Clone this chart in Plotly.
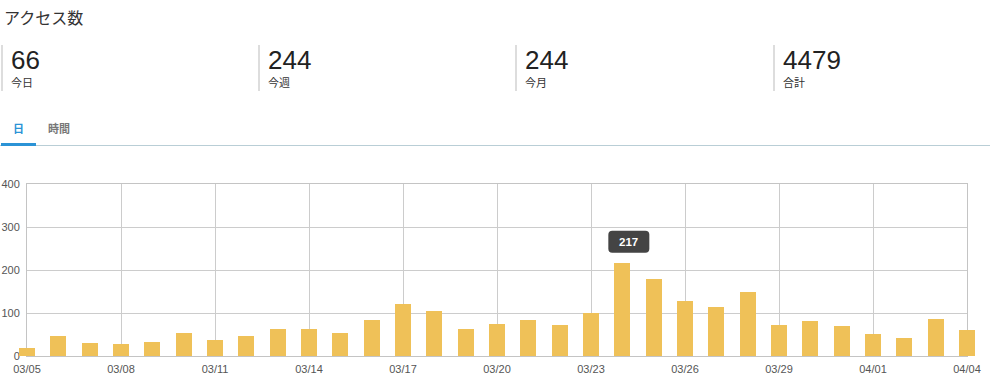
import plotly.graph_objects as go
import pandas as pd

# ---- data ----
dates = pd.date_range("2024-03-05", "2024-04-04", freq="D").strftime("%Y-%m-%d").tolist()
access = [19, 47, 30, 29, 33, 53, 37, 47, 63, 63,
          53, 84, 120, 105, 63, 74, 84, 72, 100, 217,
          180, 129, 115, 149, 72, 81, 70, 52, 42, 85, 60]
stat_values = ["66", "244", "244", "4479"]
stat_labels = ["今日", "今週", "今月", "合計"]
tab_labels = ["日", "時間"]
title_text = "アクセス数"
highlight_date = "2024-03-24"
highlight_value = 217
y_ticks = [0, 100, 200, 300, 400]

W, H = 990, 389
# inner frame (grid) in pixels
FL, FR, FT, FB = 27, 967, 184, 356
# outer paper area (wider so edge bars are not clipped)
ML, MR, MT, MB = 11, 8, FT, H - FB
PW, PH = W - ML - MR, H - MT - MB

def px(xp):
    return (xp - ML) / PW

def py(yp):
    return (H - MB - yp) / PH

DAY = 86400000
t0 = pd.Timestamp(dates[0])
t1 = pd.Timestamp(dates[-1])
ms_per_px = (t1 - t0).total_seconds() * 1000 / (FR - FL)
x2_range = [
    (t0 - pd.Timedelta(milliseconds=(FL - ML) * ms_per_px)).strftime("%Y-%m-%d %H:%M:%S.%f"),
    (t1 + pd.Timedelta(milliseconds=(W - MR - FR) * ms_per_px)).strftime("%Y-%m-%d %H:%M:%S.%f"),
]

FONT = "Helvetica Neue, Helvetica, Arial, Liberation Sans, Noto Sans CJK JP, sans-serif"
CJK = "Noto Sans CJK JP, Helvetica, Arial, sans-serif"

fig = go.Figure()
# framing subplot (grid, axes, tick labels) - transparent bars
fig.add_trace(go.Bar(
    x=dates, y=access, xaxis="x", yaxis="y",
    marker=dict(color="rgba(0,0,0,0)", line=dict(width=0)),
    width=0.51 * DAY, hoverinfo="skip",
))
# visible bars on an unclipped, wider overlay subplot
fig.add_trace(go.Bar(
    x=dates, y=access,
    xaxis="x2", yaxis="y2",
    marker=dict(color="#efc158", line=dict(width=0)),
    width=0.51 * DAY,
    hoverinfo="skip",
))

annotations = []
shapes = []

# title
annotations.append(dict(text=title_text, x=px(2), y=py(17), xref="paper", yref="paper",
                        xanchor="left", yanchor="middle", showarrow=False,
                        font=dict(family=CJK, size=16, color="#333333")))

# stats
stat_x = [2, 259, 516, 774]
for sx, v, lab in zip(stat_x, stat_values, stat_labels):
    shapes.append(dict(type="line", xref="paper", yref="paper",
                       x0=px(sx), x1=px(sx), y0=py(45), y1=py(91),
                       line=dict(color="#dddddd", width=2)))
    annotations.append(dict(text=v, x=px(sx + 7), y=py(60), xref="paper", yref="paper",
                            xanchor="left", yanchor="middle", showarrow=False,
                            font=dict(family=FONT, size=26, color="#222222")))
    annotations.append(dict(text=lab, x=px(sx + 7), y=py(82), xref="paper", yref="paper",
                            xanchor="left", yanchor="middle", showarrow=False,
                            font=dict(family=CJK, size=11, color="#333333")))

# tabs
shapes.append(dict(type="line", xref="paper", yref="paper",
                   x0=px(0), x1=px(W), y0=py(145.5), y1=py(145.5),
                   line=dict(color="#b9ced6", width=1)))
shapes.append(dict(type="rect", xref="paper", yref="paper",
                   x0=px(1), x1=px(36), y0=py(143), y1=py(146),
                   fillcolor="#2b93d6", line=dict(width=0)))
annotations.append(dict(text="<b>%s</b>" % tab_labels[0], x=px(18.5), y=py(128), xref="paper", yref="paper",
                        xanchor="center", yanchor="middle", showarrow=False,
                        font=dict(family=CJK, size=11, color="#2b93d6")))
annotations.append(dict(text="<b>%s</b>" % tab_labels[1], x=px(58.5), y=py(128), xref="paper", yref="paper",
                        xanchor="center", yanchor="middle", showarrow=False,
                        font=dict(family=CJK, size=11, color="#777777")))

# tooltip
x0, x1, y0, y1, r = -14, 27, 10, 32, 4
path = (f"M {x0+r},{y0} L {x1-r},{y0} Q {x1},{y0} {x1},{y0+r} L {x1},{y1-r} "
        f"Q {x1},{y1} {x1-r},{y1} L {x0+r},{y1} Q {x0},{y1} {x0},{y1-r} "
        f"L {x0},{y0+r} Q {x0},{y0} {x0+r},{y0} Z")
shapes.append(dict(type="path", xref="x2", yref="y2", xsizemode="pixel", ysizemode="pixel",
                   xanchor=highlight_date, yanchor=highlight_value, path=path,
                   fillcolor="#444444", line=dict(width=0), layer="above"))
annotations.append(dict(text="<b>%d</b>" % highlight_value, x=highlight_date, y=highlight_value,
                        xref="x2", yref="y2", xshift=(x0 + x1) / 2, yshift=(y0 + y1) / 2,
                        xanchor="center", yanchor="middle", showarrow=False,
                        font=dict(family=FONT, size=11.5, color="#ffffff")))

dom = [px(FL), px(FR)]
fig.update_layout(
    template="none",
    width=W, height=H,
    margin=dict(l=ML, r=MR, t=MT, b=MB, pad=0),
    paper_bgcolor="white", plot_bgcolor="rgba(0,0,0,0)",
    showlegend=False,
    bargap=0,
    barmode="overlay",
    annotations=annotations,
    shapes=shapes,
    font=dict(family=FONT, size=11, color="#555555"),
    xaxis=dict(
        type="date", domain=dom,
        range=[dates[0], dates[-1]],
        tick0=dates[0], dtick=3 * DAY, tickformat="%m/%d",
        showgrid=True, gridcolor="#cccccc", gridwidth=1,
        showline=True, linecolor="#c4c4c4", linewidth=1, mirror=True,
        ticks="", ticklabelstandoff=3, automargin=False,
        tickfont=dict(family=FONT, size=11, color="#555555"),
        fixedrange=True, zeroline=False,
    ),
    yaxis=dict(
        range=[0, 400], tickvals=y_ticks, anchor="x",
        showgrid=True, gridcolor="#cccccc", gridwidth=1,
        showline=True, linecolor="#c4c4c4", linewidth=1, mirror=True,
        ticks="", ticklabelstandoff=4, automargin=False,
        tickfont=dict(family=FONT, size=11, color="#555555"),
        fixedrange=True, zeroline=False,
    ),
    xaxis2=dict(
        type="date", domain=[0, 1], range=x2_range, anchor="y2",
        visible=False, showgrid=False, zeroline=False, fixedrange=True, automargin=False,
    ),
    yaxis2=dict(
        range=[0, 400], domain=[0, 1], anchor="x2",
        visible=False, showgrid=False, zeroline=False, fixedrange=True, automargin=False,
    ),
)

fig.write_html(
    "out.html",
    config={"displayModeBar": False},
    post_script="document.body.style.margin='0';document.body.style.padding='0';document.body.style.overflow='hidden';",
)
